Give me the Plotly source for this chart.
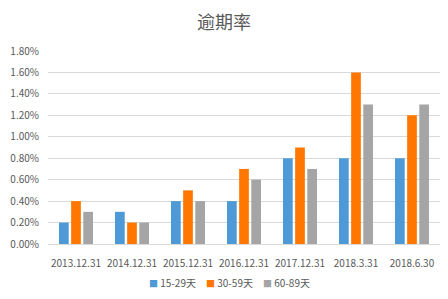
import plotly.graph_objects as go

categories = ["2013.12.31", "2014.12.31", "2015.12.31", "2016.12.31", "2017.12.31", "2018.3.31", "2018.6.30"]
s_15_29 = [0.002, 0.003, 0.004, 0.004, 0.008, 0.008, 0.008]
s_30_59 = [0.004, 0.002, 0.005, 0.007, 0.009, 0.016, 0.012]
s_60_89 = [0.003, 0.002, 0.004, 0.006, 0.007, 0.013, 0.013]
series_names = ["15-29天", "30-59天", "60-89天"]
colors = ["#4E9AD6", "#FF7700", "#A5A5A5"]

W, H = 448, 299
font_family = "Noto Sans CJK SC, Noto Sans, sans-serif"

fig = go.Figure()
for name, vals, c in zip(series_names, [s_15_29, s_30_59, s_60_89], colors):
    fig.add_trace(go.Bar(x=categories, y=vals, name=name, showlegend=False,
                         marker=dict(color=c, line=dict(width=0))))

# custom compact legend (Excel style)
legend_x0 = 147
legend_step = 57
for i, (name, c) in enumerate(zip(series_names, colors)):
    fig.add_annotation(
        xref="paper", yref="paper",
        x=(legend_x0 + i * legend_step - 48) / (W - 48 - 8),
        y=-(282 - 244) / (244 - 51),
        xanchor="left", yanchor="middle", showarrow=False,
        text=f'<span style="color:{c};font-size:9px">■</span> {name}',
        font=dict(family=font_family, size=10, color="#595959"),
    )

fig.update_layout(
    width=W, height=H,
    margin=dict(l=48, r=8, t=51, b=55),
    paper_bgcolor="white", plot_bgcolor="white",
    barmode="group", bargap=0.35, bargroupgap=0.2,
    title=dict(text="逾期率", x=0.5, xanchor="center", y=1 - 23 / H, yanchor="middle",
               font=dict(family=font_family, size=18, color="#595959")),
    font=dict(family=font_family, size=10, color="#595959"),
    showlegend=False,
    xaxis=dict(showgrid=False, showline=True, linecolor="#D9D9D9", ticks="",
               tickfont=dict(size=10, color="#595959"), ticklabelstandoff=10,
               automargin=False),
    yaxis=dict(range=[0, 0.018], dtick=0.002, tickformat=".2%", showgrid=True,
               gridcolor="#D9D9D9", zeroline=False, showline=False,
               tickfont=dict(size=10, color="#595959"), ticklabelstandoff=8,
               automargin=False),
)
fig.write_html("out.html")
